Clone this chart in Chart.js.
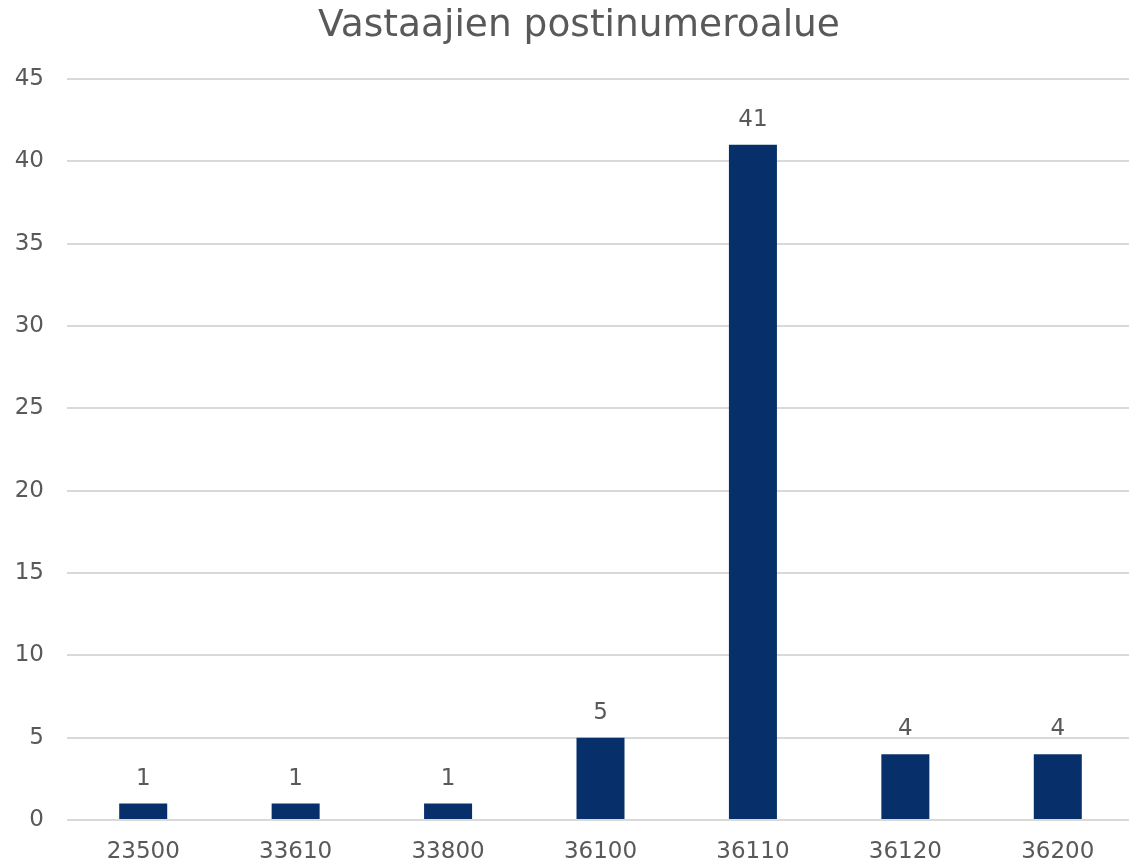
<!DOCTYPE html>
<html>
<head>
<meta charset="utf-8">
<script src="https://cdn.jsdelivr.net/npm/chart.js@4/dist/chart.umd.min.js"></script>
<style>
html,body{margin:0;padding:0;background:#fff;overflow:hidden;}
#wrap{width:1134px;height:867px;position:relative;}
</style>
</head>
<body>
<div id="wrap"><canvas id="c"></canvas></div>
<script>
const chartTitle = 'Vastaajien postinumeroalue';
const categories = ['23500','33610','33800','36100','36110','36120','36200'];
const values = [1, 1, 1, 5, 41, 4, 4];
const yTicks = [0, 5, 10, 15, 20, 25, 30, 35, 40, 45];

const FONT = "'DejaVu Sans', Verdana, sans-serif";
const TEXT = '#595959';

const valueLabels = {
  id: 'valueLabels',
  afterDatasetsDraw(chart) {
    const ctx = chart.ctx;
    const meta = chart.getDatasetMeta(0);
    ctx.save();
    ctx.font = '23px ' + FONT;
    ctx.fillStyle = TEXT;
    ctx.textAlign = 'center';
    ctx.textBaseline = 'alphabetic';
    meta.data.forEach((bar, i) => {
      ctx.fillText(String(chart.data.datasets[0].data[i]), bar.x, bar.y - 19);
    });
    ctx.restore();
  }
};

const titleDraw = {
  id: 'titleDraw',
  afterDraw(chart) {
    const ctx = chart.ctx;
    ctx.save();
    ctx.font = '37.5px ' + FONT;
    ctx.fillStyle = TEXT;
    ctx.textAlign = 'center';
    ctx.textBaseline = 'middle';
    ctx.fillText(chartTitle, chart.width / 2 + 12, 26);
    ctx.restore();
  }
};

new Chart(document.getElementById('c'), {
  type: 'bar',
  data: {
    labels: categories,
    datasets: [{
      data: values,
      backgroundColor: '#07306b',
      borderWidth: 0,
      barPercentage: 0.315,
      categoryPercentage: 1
    }]
  },
  options: {
    responsive: true,
    maintainAspectRatio: false,
    animation: false,
    layout: { padding: { left: 0, right: 0, top: 79, bottom: 0 } },
    plugins: {
      legend: { display: false },
      tooltip: { enabled: false },
      title: { display: false }
    },
    scales: {
      x: {
        grid: { display: false, drawTicks: false },
        border: { display: false },
        ticks: { color: TEXT, font: { family: FONT, size: 23 }, padding: 18, maxRotation: 0 },
        afterFit(s) { s.height = 47; }
      },
      y: {
        min: 0,
        max: 45,
        afterBuildTicks(s) { s.ticks = yTicks.map(v => ({ value: v })); },
        grid: { color: '#d9d9d9', lineWidth: 2, drawTicks: false },
        border: { display: false },
        ticks: { color: TEXT, font: { family: FONT, size: 23 }, padding: 23 },
        afterFit(s) { s.width = 67; }
      }
    }
  },
  plugins: [valueLabels, titleDraw]
});
</script>
</body>
</html>
